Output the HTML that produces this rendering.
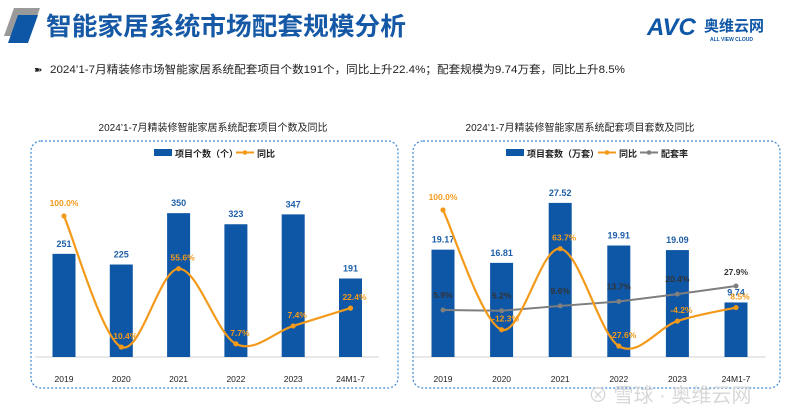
<!DOCTYPE html>
<html><head><meta charset="utf-8"><style>
body{margin:0;width:800px;height:416px;overflow:hidden;background:#fff;font-family:"Liberation Sans","Noto Sans CJK SC",sans-serif;position:relative}
svg{position:absolute;left:0;top:0}
</style></head><body>
<svg width="800" height="416">
  <polygon points="14,8 40,8 30,36 4,36" fill="#9a9a9a"/>
  <polygon points="18,15 38,15 28,43 8,43" fill="#0e56a6"/>
  <text x="46" y="35" font-size="25" font-weight="bold" fill="#1558a5" textLength="360" lengthAdjust="spacingAndGlyphs" font-family="Liberation Sans,Noto Sans CJK SC,sans-serif">智能家居系统市场配套规模分析</text>
  <g>
    <text x="647" y="35" font-size="24" font-weight="bold" font-style="italic" fill="#0e56a6" font-family="Liberation Sans,sans-serif">AVC</text>
    <text x="704" y="31" font-size="15" font-weight="bold" fill="#0e56a6" font-family="Noto Sans CJK SC,sans-serif">奥维云网</text>
    <text x="710" y="41" font-size="5" font-weight="bold" fill="#0e56a6">ALL VIEW CLOUD</text>
  </g>
  <text x="34" y="73" font-size="10" fill="#222">➽</text>
  <text x="50" y="73" font-size="11" fill="#222" textLength="575" lengthAdjust="spacingAndGlyphs" font-family="Liberation Sans,Noto Sans CJK SC,sans-serif">2024’1-7月精装修市场智能家居系统配套项目个数191个，同比上升22.4%；配套规模为9.74万套，同比上升8.5%</text>
  <text x="213" y="131" font-size="10" fill="#222" text-anchor="middle">2024’1-7月精装修智能家居系统配套项目个数及同比</text>
  <text x="580" y="131" font-size="10" fill="#222" text-anchor="middle">2024’1-7月精装修智能家居系统配套项目套数及同比</text>
  <rect x="31" y="141" width="367" height="247" rx="10" fill="none" stroke="#3a86d4" stroke-dasharray="2,2" stroke-width="1.2"/>
  <rect x="413" y="141" width="367" height="247" rx="10" fill="none" stroke="#3a86d4" stroke-dasharray="2,2" stroke-width="1.2"/>
  <g id="left"></g>
  <g id="right"></g>
  <text x="588" y="402" font-size="20" fill="#d8d8d8">⊗ 雪球 · 奥维云网</text>
</svg>
<script>
const categories=["2019","2020","2021","2022","2023","24M1-7"];
const leftBars=[251,225,350,323,347,191];
const leftYoY=[100.0,-10.4,55.6,-7.7,7.4,22.4];
const leftYoYLabels=["100.0%","10.4%","55.6%","7.7%","7.4%","22.4%"];
const rightBars=[19.17,16.81,27.52,19.91,19.09,9.74];
const rightYoY=[100.0,-12.3,63.7,-27.6,-4.2,8.5];
const rightYoYLabels=["100.0%","-12.3%","63.7%","-27.6%","-4.2%","8.5%"];
const rightRate=[5.9,5.2,9.6,13.7,20.4,27.9];
const rightRateLabels=["5.9%","5.2%","9.6%","13.7%","20.4%","27.9%"];
const NS="http://www.w3.org/2000/svg";
function mk(p,tag,a){const e=document.createElementNS(NS,tag);for(const k in a)e.setAttribute(k,a[k]);p.appendChild(e);return e;}
function smooth(pts){let d="M"+pts[0][0]+","+pts[0][1];for(let i=0;i<pts.length-1;i++){const p0=pts[i-1]||pts[i],p1=pts[i],p2=pts[i+1],p3=pts[i+2]||p2;const c1=[p1[0]+(p2[0]-p0[0])/6,p1[1]+(p2[1]-p0[1])/6],c2=[p2[0]-(p3[0]-p1[0])/6,p2[1]-(p3[1]-p1[1])/6];d+=" C"+c1+" "+c2+" "+p2;}return d;}
function chart(g,cfg){
  const xs=i=>cfg.x0+i*cfg.step;
  const yb=v=>cfg.base-v*cfg.barK;
  const yl=v=>cfg.zero-v*cfg.lineK;
  mk(g,"line",{x1:cfg.x0-cfg.step/2,x2:xs(5)+cfg.step/2,y1:cfg.base,y2:cfg.base,stroke:"#d0d0d0"});
  categories.forEach((c,i)=>{
    const r=mk(g,"rect",{x:xs(i)-11.5,y:yb(cfg.bars[i]),width:23,height:cfg.base-yb(cfg.bars[i]),fill:"#0e56a6"});
    
    
    const t=mk(g,"text",{x:xs(i),y:yb(cfg.bars[i])-7,"font-size":9,"font-weight":"bold",fill:"#1f5fa8","text-anchor":"middle"});t.textContent=cfg.barLabels?cfg.barLabels[i]:cfg.bars[i];
    
    
    const x=mk(g,"text",{x:xs(i),y:cfg.base+25,"font-size":8.5,fill:"#222","text-anchor":"middle"});x.textContent=c;
    
    
  });
  if(cfg.rate){
    const pts=cfg.rate.map((v,i)=>[xs(i),cfg.rzero-v*cfg.rK]);
    const p=mk(g,"polyline",{points:pts.join(" "),fill:"none",stroke:"#7f7f7f","stroke-width":2});
    
    
    pts.forEach((q,i)=>{mk(g,"circle",{cx:q[0],cy:q[1],r:2.5,fill:"#7f7f7f"});
      const t=mk(g,"text",{x:q[0],y:q[1]-(i==5?11:12),"font-size":8.5,"font-weight":"bold",fill:"#333","text-anchor":"middle"});t.textContent=cfg.rateLabels[i];
      
      });
  }
  const pts=cfg.yoy.map((v,i)=>[xs(i),yl(v)]);
  const l=mk(g,"path",{d:smooth(pts),fill:"none",stroke:"#f39a1b","stroke-width":2.2});
  
  
  pts.forEach((q,i)=>{mk(g,"circle",{cx:q[0],cy:q[1],r:2.6,fill:"#f39a1b"});
    const t=mk(g,"text",{x:q[0]+(i==0?0:4),y:q[1]-(i==0?10:8),"font-size":8.5,"font-weight":"bold",fill:"#f39a1b","text-anchor":"middle"});t.textContent=cfg.yoyLabels[i];
    
    });
  const L=cfg.legend;let lx=L.x;
  mk(g,"rect",{x:lx,y:149,width:18,height:7,fill:"#0e56a6"});
  let t=mk(g,"text",{x:lx+21,y:157,"font-size":9,"font-weight":"bold",fill:"#222"});t.textContent=L.bar;
  
  
  lx+=L.w1;
  mk(g,"line",{x1:lx,x2:lx+18,y1:152.5,y2:152.5,stroke:"#f39a1b","stroke-width":2});mk(g,"circle",{cx:lx+9,cy:152.5,r:2.3,fill:"#f39a1b"});
  t=mk(g,"text",{x:lx+21,y:157,"font-size":9,"font-weight":"bold",fill:"#222"});t.textContent="同比";
  
  
  if(cfg.rate){lx+=42;
    mk(g,"line",{x1:lx,x2:lx+18,y1:152.5,y2:152.5,stroke:"#7f7f7f","stroke-width":2});mk(g,"circle",{cx:lx+9,cy:152.5,r:2.3,fill:"#7f7f7f"});
    t=mk(g,"text",{x:lx+21,y:157,"font-size":9,"font-weight":"bold",fill:"#222"});t.textContent="配套率";
    
    }
}
chart(document.getElementById("left"),{x0:64,step:57.3,base:357,barK:0.411,zero:334.7,lineK:1.187,bars:leftBars,yoy:leftYoY,yoyLabels:leftYoYLabels,legend:{x:154,w1:82,bar:"项目个数（个）"}});
chart(document.getElementById("right"),{x0:443,step:58.6,base:357,barK:5.6,zero:316.6,lineK:1.066,bars:rightBars,barLabels:rightBars.map(v=>v.toFixed(2)),yoy:rightYoY,yoyLabels:rightYoYLabels,rate:rightRate,rateLabels:rightRateLabels,rzero:316.4,rK:1.09,legend:{x:506,w1:92,bar:"项目套数（万套）"}});
</script>
</body></html>
